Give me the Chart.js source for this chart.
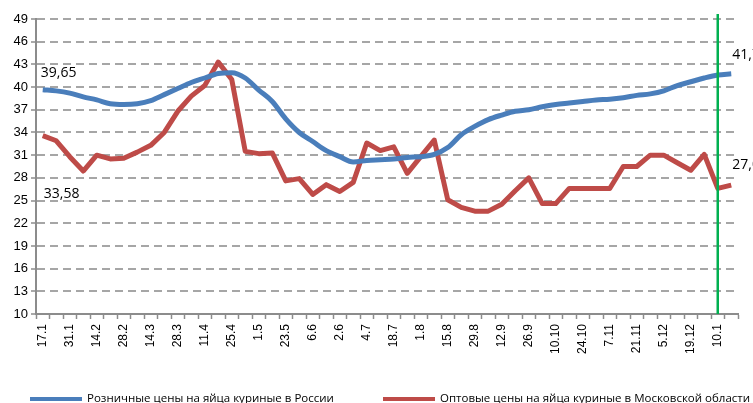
<!DOCTYPE html>
<html>
<head>
<meta charset="utf-8">
<script src="https://cdn.jsdelivr.net/npm/chart.js@4.4.1/dist/chart.umd.min.js"></script>
<style>
  html, body { margin: 0; padding: 0; background: #fff; overflow: hidden; }
  #wrap { width: 753px; height: 403px; }
</style>
</head>
<body>
<div id="wrap"><canvas id="eggs" width="753" height="403"></canvas></div>
<script>
// weekly dates, only every other one is printed on the axis
const dates = [
  '17.1', '24.1', '31.1', '7.2', '14.2', '21.2', '28.2', '7.3', '14.3', '21.3',
  '28.3', '4.4', '11.4', '18.4', '25.4', '28.4', '1.5', '16.5', '23.5', '30.5',
  '6.6', '13.6', '2.6', '27.6', '4.7', '11.7', '18.7', '25.7', '1.8', '8.8',
  '15.8', '22.8', '29.8', '5.9', '12.9', '19.9', '26.9', '3.10', '10.10', '17.10',
  '24.10', '31.10', '7.11', '14.11', '21.11', '28.11', '5.12', '12.12', '19.12', '26.12',
  '10.1', '17.1'
];
const retailRussia = [
  39.65, 39.5, 39.2, 38.7, 38.3, 37.8, 37.7, 37.8, 38.2, 39.0,
  39.8, 40.6, 41.2, 41.8, 41.9, 41.2, 39.6, 38.1, 35.8, 34.0,
  32.8, 31.6, 30.8, 30.1, 30.3, 30.4, 30.5, 30.7, 30.8, 31.1,
  32.0, 33.7, 34.8, 35.7, 36.3, 36.8, 37.0, 37.4, 37.7, 37.9,
  38.1, 38.3, 38.4, 38.6, 38.9, 39.1, 39.5, 40.2, 40.7, 41.2,
  41.6, 41.75
];
const wholesaleMoscow = [
  33.58, 32.9, 30.8, 28.9, 31.0, 30.5, 30.6, 31.4, 32.3, 34.0,
  36.8, 38.8, 40.2, 43.3, 41.0, 31.5, 31.2, 31.3, 27.6, 27.9,
  25.8, 27.1, 26.2, 27.4, 32.6, 31.6, 32.1, 28.6, 30.8, 33.0,
  25.1, 24.1, 23.6, 23.6, 24.5, 26.3, 28.0, 24.6, 24.6, 26.6,
  26.6, 26.6, 26.6, 29.5, 29.5, 31.0, 31.0, 30.0, 29.0, 31.1,
  26.6, 27.03
];
const seriesNames = [
  'Розничные цены на яйца куриные в России',
  'Оптовые цены на яйца куриные в Московской области'
];
const yMin = 10, yMax = 49, yStep = 3;
const markerDate = 50; // index of the green vertical marker

const BLUE = '#4a7ebb';
const RED = '#be4b48';
const GRID = '#a6a6a6';
const AXIS = '#8c8c8c';

const fmt = v => v.toFixed(2).replace('.', ',');

// value labels at the start and end of each line
const valueLabels = {
  id: 'valueLabels',
  afterDatasetsDraw(chart, args, opts) {
    const ctx = chart.ctx;
    ctx.save();
    ctx.font = '14px "Open Sans"';
    ctx.fillStyle = '#000';
    ctx.textAlign = 'left';
    ctx.textBaseline = 'middle';
    opts.items.forEach(it => {
      const pt = chart.getDatasetMeta(it.ds).data[it.i];
      const v = chart.data.datasets[it.ds].data[it.i];
      ctx.fillText(fmt(v), pt.x + it.dx, pt.y + it.dy);
    });
    ctx.restore();
  }
};

// green vertical line at the current date
const markerLine = {
  id: 'markerLine',
  afterDatasetsDraw(chart) {
    const x = chart.scales.x.getPixelForValue(markerDate);
    const area = chart.chartArea;
    const ctx = chart.ctx;
    ctx.save();
    ctx.strokeStyle = '#00b050';
    ctx.lineWidth = 2.5;
    ctx.beginPath();
    ctx.moveTo(x, area.top - 5);
    ctx.lineTo(x, area.bottom);
    ctx.stroke();
    ctx.restore();
  }
};

// legend along the bottom edge
const bottomLegend = {
  id: 'bottomLegend',
  afterDraw(chart, args, opts) {
    const ctx = chart.ctx;
    ctx.save();
    ctx.font = '11.5px "Open Sans"';
    ctx.fillStyle = '#000';
    ctx.textBaseline = 'middle';
    chart.data.datasets.forEach((ds, k) => {
      const x = opts.xs[k];
      ctx.strokeStyle = ds.borderColor;
      ctx.lineWidth = 4;
      ctx.beginPath();
      ctx.moveTo(x, opts.y);
      ctx.lineTo(x + 52, opts.y);
      ctx.stroke();
      ctx.fillText(ds.label, x + 57, opts.y);
    });
    ctx.restore();
  }
};

new Chart(document.getElementById('eggs'), {
  type: 'line',
  data: {
    labels: dates,
    datasets: [
      {
        label: seriesNames[0], data: retailRussia,
        borderColor: BLUE, borderWidth: 5, pointRadius: 0,
        cubicInterpolationMode: 'monotone', borderJoinStyle: 'round'
      },
      {
        label: seriesNames[1], data: wholesaleMoscow,
        borderColor: RED, borderWidth: 5, pointRadius: 0,
        tension: 0, borderJoinStyle: 'round'
      }
    ]
  },
  plugins: [markerLine, valueLabels, bottomLegend],
  options: {
    responsive: false,
    animation: false,
    layout: { padding: { top: 19, right: 15, bottom: 29, left: 0 } },
    plugins: {
      legend: { display: false },
      tooltip: { enabled: false },
      valueLabels: {
        items: [
          { ds: 0, i: 0, dx: -2, dy: -17 },
          { ds: 1, i: 0, dx: 1, dy: 58 },
          { ds: 0, i: 51, dx: 1, dy: -19 },
          { ds: 1, i: 51, dx: 1, dy: -20 }
        ]
      },
      bottomLegend: { xs: [30, 383], y: 399 }
    },
    scales: {
      x: {
        offset: true,
        afterFit(scale) { scale.height = 60; },
        grid: { offset: true, drawOnChartArea: false, tickLength: 5, tickColor: AXIS, tickWidth: 1.5 },
        border: { color: AXIS, width: 2 },
        ticks: {
          autoSkip: false, maxRotation: 90, minRotation: 90, padding: 5,
          color: '#000', font: { family: '"Liberation Sans", Arial', size: 12 },
          callback(value, index) { return index % 2 === 0 ? this.getLabelForValue(value) : ''; }
        }
      },
      y: {
        min: yMin, max: yMax,
        afterFit(scale) { scale.width = 36; },
        grid: { color: GRID, lineWidth: 2, tickLength: 5, tickColor: AXIS, tickWidth: 1.5 },
        border: { color: AXIS, width: 2, dash: [8, 5] },
        ticks: {
          stepSize: yStep, padding: 3, color: '#000',
          font: { family: '"Liberation Sans", Arial', size: 13 }
        }
      }
    }
  }
});
</script>
</body>
</html>
